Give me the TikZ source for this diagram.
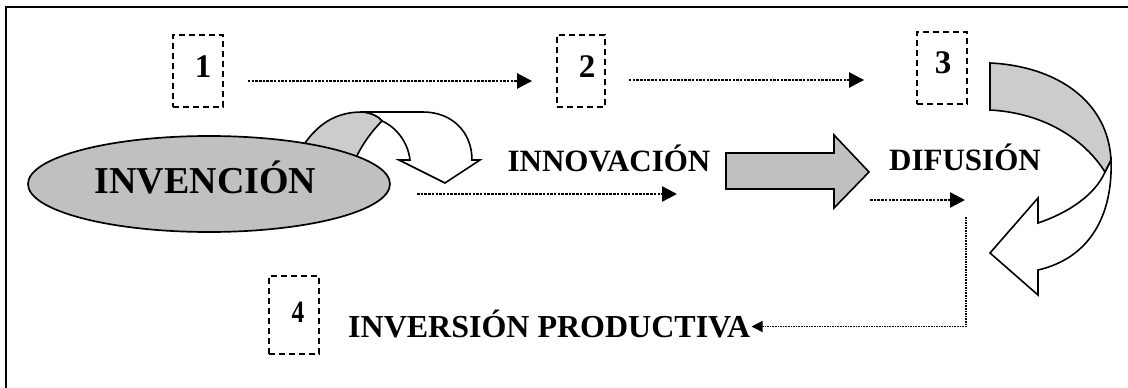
\documentclass[tikz,border=0pt]{standalone}
\usepackage{fontspec}
\setmainfont{Liberation Serif}
\usetikzlibrary{arrows.meta,shapes.geometric}
\definecolor{shadeA}{RGB}{192,192,192}
\definecolor{shadeB}{RGB}{204,204,204}
\begin{document}
\begin{tikzpicture}[x=1pt,y=-1pt,
  numbox/.style={draw, line width=1.8pt, dash pattern=on 6pt off 4pt, inner sep=0pt, minimum width=50pt, minimum height=72pt},
  numtxt/.style={font=\fontsize{33}{33}\selectfont\bfseries, inner sep=0pt},
  lbl/.style={font=\fontsize{31}{31}\selectfont\bfseries, inner sep=1pt, anchor=base},
  dotarrow/.style={line width=2.5pt, dash pattern=on 2.5pt off 1.2pt, -{Triangle[length=15pt,width=15pt]}},
  thindot/.style={line width=1.5pt, dash pattern=on 1.5pt off 1.1pt, -{Triangle[length=11pt,width=11pt]}},
  blockshape/.style={draw, line width=1.6pt, line join=miter}
]
\useasboundingbox (0,0) rectangle (1128,388);
\clip (0,0) rectangle (1128,388);
\fill[white] (0,0) rectangle (1128,388);
\draw[line width=2.2pt] (6,420) -- (6,7) -- (1160,7);

% numbered dashed boxes
\node[numbox] (b1) at (198,71) {};
\node[numbox, minimum width=48pt] (b2) at (581,71) {};
\node[numbox] (b3) at (942,68) {};
\node[numbox, minimum height=78pt] (b4) at (294,315) {};
\node[numtxt] (n1) at ([shift={(5pt,4pt)}]b1.center) {1};
\node[numtxt] (n2) at ([shift={(6pt,4pt)}]b2.center) {2};
\node[numtxt] (n3) at ([shift={(1pt,5pt)}]b3.center) {3};
\node[numtxt, font=\fontsize{31}{31}\selectfont\bfseries, xscale=0.82] (n4) at ([shift={(4pt,3pt)}]b4.center) {4};

% top dotted arrows
\draw[dotarrow] ([shift={(24pt,-10pt)}]b1.east) -- ([shift={(-24pt,-10pt)}]b2.west);
\draw[dotarrow] ([shift={(23pt,-9pt)}]b2.east) -- ([shift={(-52pt,-12pt)}]b3.west);

% curved arrow over the ellipse
\filldraw[blockshape, fill=white] (362,112) -- (423,112) .. controls (452,112) and (472,132) .. (472,160)
  -- (480,160) -- (445,183) -- (399,160) -- (410,160)
  .. controls (408,142) and (396,127) .. (382,121)
  .. controls (379,117) and (372,113) .. (362,112) -- cycle;
\filldraw[blockshape, fill=shadeB] (298,162) -- (305,143) .. controls (320,122) and (338,112) .. (362,112)
  .. controls (372,113) and (379,117) .. (382,121)
  .. controls (372,131) and (362,144) .. (354,162) -- cycle;

% ellipse
\node[ellipse, draw, line width=1.7pt, fill=shadeA, minimum width=362pt, minimum height=96pt, inner sep=0pt] (ell) at (209,184) {};
\node[lbl, font=\fontsize{38}{38}\selectfont\bfseries] (inv) at (205.5,193) {INVENCIÓN};

% labels
\node[lbl] (innov) at (609,171) {INNOVACIÓN};
\node[lbl] (dif) at (965,170) {DIFUSIÓN};
\node[lbl, anchor=base west, font=\fontsize{32}{32}\selectfont\bfseries] (prod) at (347,337) {INVERSIÓN PRODUCTIVA};

% block arrow
\filldraw[blockshape, fill=shadeA] (726,153) -- (834,153) -- (834,135) -- (869,172) -- (834,208) -- (834,189) -- (726,189) -- cycle;

% right curved arrow
\filldraw[blockshape, fill=white] (1105,172) -- (1111,160) .. controls (1113,215) and (1090,258) .. (1038,270)
  -- (1038,295) -- (990,253) -- (1038,198) -- (1038,223)
  .. controls (1068,213) and (1095,195) .. (1105,172) -- cycle;
\filldraw[blockshape, fill=shadeB] (990,63) .. controls (1055,66) and (1108,100) .. (1111,160)
  -- (1105,172) .. controls (1085,140) and (1045,113) .. (990,110) -- cycle;

% lower dotted arrows
\coordinate (c1) at (417,194);
\coordinate (c2) at (677,194);
\draw[dotarrow] (c1) -- (c2);
\coordinate (c3) at (870,200);
\coordinate (c4) at (965,200);
\draw[dotarrow] (c3) -- (c4);
\coordinate (c5) at (966,217);
\draw[thindot] (c5) |- ([yshift=-3pt]prod.east);
\end{tikzpicture}
\end{document}
